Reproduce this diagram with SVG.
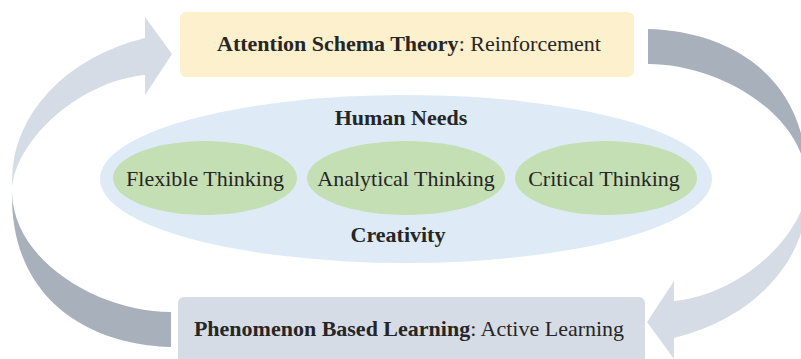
<svg xmlns="http://www.w3.org/2000/svg" width="801" height="359" viewBox="0 0 801 359">
  <style>
    .lbl { font-family: "Liberation Serif", "Times New Roman", serif; font-size: 22px; fill: #262626; }
    .b { font-weight: bold; }
    .front { fill: #d6dce5; }
    .back { fill: #a8b0bc; }
  </style>
  <defs>
    <!-- curved ribbon arrow: light front face ending in the head, darker back face at the tail -->
    <g id="curved-arrow">
      <path class="front" d="M 12 192 L 12 180 A 188 148.5 0 0 1 145 38 L 145 17 L 172 54 L 145 95 L 145 75 C 75 82 12 145 12 192 Z"/>
      <path class="back" d="M 12 192 C 10 300 90 345 171 347 L 171 312 C 100 312 13 262 12 192 Z"/>
    </g>
  </defs>

  <g id="connectors">
    <use href="#curved-arrow"/>
    <use href="#curved-arrow" transform="rotate(180 409.5 188)"/>
  </g>

  <g id="attention-schema-theory">
    <rect x="180" y="12" width="454" height="65" rx="6" fill="#fcf0cd"/>
    <text class="lbl" x="409" y="51" text-anchor="middle"><tspan class="b">Attention Schema Theory</tspan>: Reinforcement</text>
  </g>

  <g id="human-needs">
    <ellipse cx="406" cy="179" rx="306" ry="84" fill="#deebf6"/>
    <text class="lbl b" x="401" y="125" text-anchor="middle">Human Needs</text>
    <text class="lbl b" x="398" y="242" text-anchor="middle">Creativity</text>
  </g>

  <g id="flexible-thinking">
    <ellipse cx="205" cy="178" rx="92" ry="37" fill="#c5dfb4"/>
    <text class="lbl" x="205" y="186" text-anchor="middle">Flexible Thinking</text>
  </g>

  <g id="analytical-thinking">
    <ellipse cx="406" cy="178" rx="99" ry="37" fill="#c5dfb4"/>
    <text class="lbl" x="406" y="186" text-anchor="middle">Analytical Thinking</text>
  </g>

  <g id="critical-thinking">
    <ellipse cx="606" cy="178" rx="91" ry="37" fill="#c5dfb4"/>
    <text class="lbl" x="604" y="186" text-anchor="middle">Critical Thinking</text>
  </g>

  <g id="phenomenon-based-learning">
    <rect x="178" y="297" width="467" height="70" rx="6" fill="#d6dce5"/>
    <text class="lbl" x="409" y="336" text-anchor="middle"><tspan class="b">Phenomenon Based Learning</tspan>: Active Learning</text>
  </g>
</svg>
